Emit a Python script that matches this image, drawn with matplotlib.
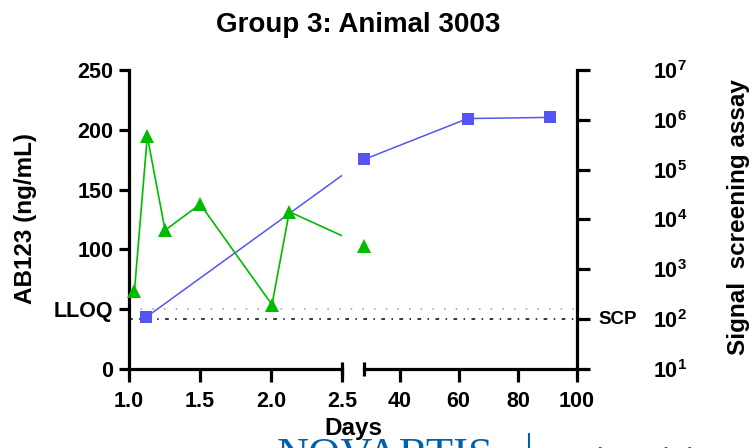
import numpy as np
import matplotlib
matplotlib.use('Agg')
import matplotlib.pyplot as plt
from matplotlib.patches import Rectangle
from matplotlib.lines import Line2D
from matplotlib.transforms import blended_transform_factory

plt.rcParams['font.family'] = ['Liberation Sans', 'DejaVu Sans']
plt.rcParams['font.weight'] = 'bold'
plt.rcParams['mathtext.fontset'] = 'custom'
plt.rcParams['mathtext.rm'] = 'Liberation Sans:bold'
plt.rcParams['mathtext.default'] = 'rm'

# data
ab_days = [1.042, 1.132, 1.257, 1.504, 2.008, 2.13, 28]
ab_conc = [65.6, 194.6, 116, 137.8, 53.8, 131.5, 103]          # ng/mL, left axis
sig_days = [1.125, 28, 63, 91]
sig_vals = [110, 1.6e5, 1.06e6, 1.12e6]                         # right axis, log

lloq = 50
scp = 100

left_ticks = [0, 50, 100, 150, 200, 250]
left_labels = ['0', 'LLOQ', '100', '150', '200', '250']
x_ticks = [1.0, 1.5, 2.0, 2.5, 40, 60, 80, 100]
x_labels = ['1.0', '1.5', '2.0', '2.5', '40', '60', '80', '100']
right_exp = [1, 2, 3, 4, 5, 6, 7]

# broken x axis: 1.0-2.5 then 28-100, small gap between
brk_x = [1.0, 2.5, 28.0, 100.0]
brk_u = [0.0, 213.5, 235.5, 448.5]


def fwd(x):
    x = np.asarray(x, dtype=float)
    u = np.interp(x, brk_x, brk_u)
    u = np.where(x < brk_x[0], (x - brk_x[0]) * 142.3, u)
    u = np.where(x > brk_x[-1], brk_u[-1] + (x - brk_x[-1]) * 2.958, u)
    return u


def inv(u):
    u = np.asarray(u, dtype=float)
    x = np.interp(u, brk_u, brk_x)
    x = np.where(u < brk_u[0], brk_x[0] + u / 142.3, x)
    x = np.where(u > brk_u[-1], brk_x[-1] + (u - brk_u[-1]) / 2.958, x)
    return x


green = '#00BB00'
blue = '#5555F5'

fig = plt.figure(figsize=(7.54, 4.48), dpi=100)
ax = fig.add_axes([128.5 / 754, 1 - 369 / 448, 448.5 / 754, 299 / 448])
ax2 = ax.twinx()
ax.set_zorder(ax2.get_zorder() + 1)
ax.patch.set_visible(False)

ax.set_xscale('function', functions=(fwd, inv))
ax.set_xlim(1.0, 100)
ax.set_ylim(0, 250)
ax2.set_yscale('log')
ax2.set_ylim(10, 1e7)


# line pieces are only shown inside the two x segments
def seg_clip(a, x0, x1):
    tr = blended_transform_factory(a.transData, a.transAxes)
    return Rectangle((x0, -0.2), x1 - x0, 1.4, transform=tr)


for x0, x1 in [(1.0, 2.5), (28, 100)]:
    ln, = ax.plot(ab_days, ab_conc, color=green, lw=1.2, zorder=3)
    ln.set_clip_path(seg_clip(ax, x0, x1))
    ln2, = ax2.plot(sig_days, sig_vals, color=blue, lw=1.1, zorder=3)
    ln2.set_clip_path(seg_clip(ax2, x0, x1))

ax.plot(ab_days, ab_conc, ls='none', marker='^', ms=9.5, color=green,
        mew=0, clip_on=False, zorder=6)
ax2.plot(sig_days, sig_vals, ls='none', marker='s', ms=9.3, color=blue,
         mew=0, clip_on=False, zorder=6)

# LLOQ and SCP reference lines
ax.axhline(lloq, color='#b0b0b0', lw=1.4, ls=(0, (0.8, 5.2)), zorder=2)
ax2.axhline(scp, color='black', lw=1.1, ls=(0, (2.4, 4.2, 1, 4.2)), zorder=2)

# spines
for a in (ax, ax2):
    a.spines['top'].set_visible(False)
    a.spines['bottom'].set_visible(False)
ax.spines['right'].set_visible(False)
ax2.spines['left'].set_visible(False)
ax.spines['left'].set_linewidth(2.3)
ax2.spines['right'].set_linewidth(2.3)

btr = blended_transform_factory(ax.transData, ax.transAxes)
for x0, x1 in [(1.0, 2.5), (28, 100)]:
    ax.plot([x0, x1], [0, 0], color='black', lw=2.3, transform=btr,
            clip_on=False, solid_capstyle='projecting', zorder=7)
ax.plot([2.5, 28], [0, 0], ls='none', marker='|', ms=10, mew=2.3,
        color='black', transform=btr, clip_on=False, zorder=7)

ax.set_xticks(x_ticks)
ax.set_xticklabels(x_labels)
ax.xaxis.set_minor_locator(plt.NullLocator())
ax.set_yticks(left_ticks)
ax.set_yticklabels(left_labels)
ax.tick_params(axis='x', length=9, width=2.3, labelsize=15.5, pad=7)
ax.tick_params(axis='y', length=7.5, width=2.3, labelsize=15.5, pad=3.5)

ax2.set_yticks([10.0 ** e for e in right_exp])
ax2.set_yticklabels([f'$10^{{{e}}}$' for e in right_exp])
ax2.yaxis.set_minor_locator(plt.NullLocator())
ax2.tick_params(axis='y', length=9, width=2.3, labelsize=15.5, pad=46)

ax2.text(1.048, scp, 'SCP',
         transform=blended_transform_factory(ax2.transAxes, ax2.transData),
         ha='left', va='center', fontsize=13.5, fontweight='bold')

fig.text(358 / 754, 1 - 31.5 / 448, 'Group 3: Animal 3003', ha='center',
         va='baseline', fontsize=20, fontweight='bold')
fig.text(26 / 754, 1 - 218 / 448, 'AB123 (ng/mL)', rotation=90, ha='center',
         va='center', fontsize=17.5, fontweight='bold')
fig.text(739 / 754, 1 - 217.5 / 448, 'Signal  screening assay', rotation=90,
         ha='center', va='center', fontsize=17.5, fontweight='bold')

# logo strip cut off at the bottom edge
nv = '#0460A9'
fig.text(277 / 754, 1 - 468 / 448, 'NOVARTIS', ha='left', va='baseline',
         fontsize=32, family='Liberation Serif', fontweight='normal', color=nv)
fig.add_artist(Line2D([529 / 754, 529 / 754], [1 - 434 / 448, -0.05],
                      color=nv, lw=1.5))
fig.text(558 / 754, 1 - 470 / 448, 'Reimagining medicine', ha='left',
         va='baseline', fontsize=22, fontweight='normal', color=nv)

fig.text(353 / 754, 1 - 435 / 448, 'Days', ha='center', va='baseline',
         fontsize=17.5, fontweight='bold', zorder=10)

fig.savefig('out.png', dpi=100)
